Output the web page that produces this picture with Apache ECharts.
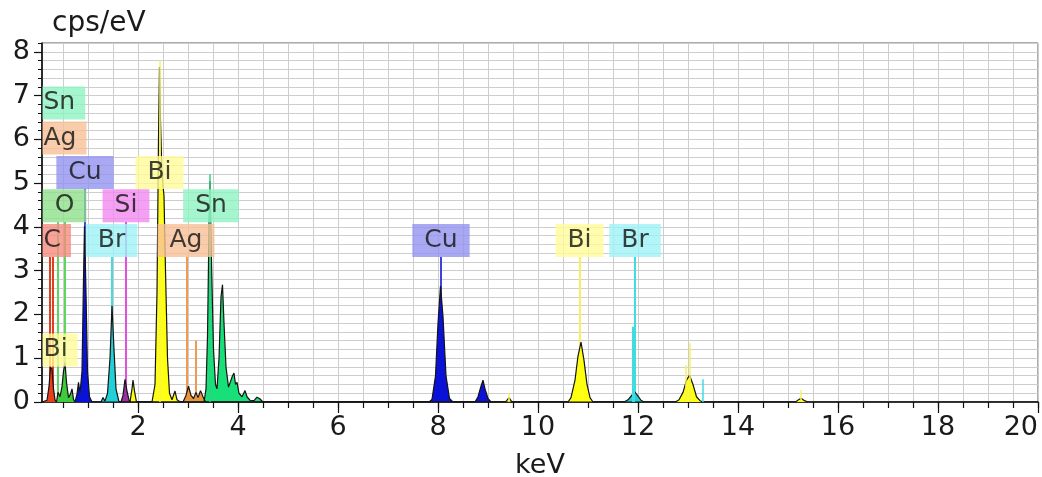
<!DOCTYPE html>
<html><head><meta charset="utf-8">
<script src="https://cdn.jsdelivr.net/npm/echarts@6/dist/echarts.min.js"></script>
<style>html,body{margin:0;padding:0;background:#fff}#c{width:1042px;height:477px}</style>
</head><body><div id="c"></div>
<script>
// ---------- axis ticks ----------
const xMin = 0.08, xMax = 20;
const yMin = 0, yMax = 8.2;
const xTickLabels = [2, 4, 6, 8, 10, 12, 14, 16, 18, 20];
const yTickLabels = [0, 1, 2, 3, 4, 5, 6, 7, 8];

// ---------- spectrum per element: [keV, cps/eV] ----------
const specC = [[0.08,0],[0.18,0.04],[0.22,0.35],[0.25,0.8],[0.28,0.75],[0.31,0.3],[0.34,0.05],[0.37,0]];
const specO = [[0.37,0],[0.40,0.22],[0.44,0.12],[0.48,0.35],[0.51,0.7],[0.54,0.9],[0.57,0.45],[0.61,0.1],[0.65,0.18],[0.68,0.3],[0.71,0.06],[0.74,0]];
const specCu = [[0.74,0],[0.78,0.18],[0.81,0.45],[0.84,0.2],[0.88,0.7],[0.91,2.8],[0.93,4.02],[0.96,2.5],[0.99,0.7],[1.03,0.12],[1.08,0],
  [7.82,0],[7.88,0.06],[7.95,0.6],[8.0,1.8],[8.05,2.65],[8.1,1.95],[8.16,0.6],[8.23,0.08],[8.3,0],
  [8.74,0],[8.8,0.12],[8.86,0.36],[8.9,0.5],[8.94,0.3],[9.0,0.08],[9.06,0]];
const specBr = [[1.26,0],[1.3,0.1],[1.34,0.02],[1.39,0.2],[1.44,1.0],[1.48,2.2],[1.52,1.2],[1.56,0.3],[1.62,0],
  [11.72,0],[11.8,0.05],[11.88,0.16],[11.93,0.24],[11.99,0.15],[12.06,0.04],[12.12,0]];
const specSi = [[1.66,0],[1.70,0.15],[1.74,0.52],[1.78,0.25],[1.82,0.05],[1.85,0]];
const specBi = [[1.84,0],[1.88,0.3],[1.90,0.5],[1.93,0.25],[1.97,0],
  [2.28,0],[2.34,0.4],[2.38,2.5],[2.41,6.0],[2.43,7.65],[2.45,6.4],[2.48,5.2],[2.52,4.7],[2.55,3.0],[2.59,1.0],[2.63,0.2],[2.68,0.05],[2.74,0.25],[2.78,0.05],[2.85,0],
  [9.35,0],[9.42,0.1],[9.48,0],
  [10.6,0],[10.66,0.1],[10.74,0.5],[10.8,1.05],[10.86,1.37],[10.92,0.95],[10.98,0.4],[11.04,0.1],[11.1,0],
  [12.75,0],[12.82,0.05],[12.9,0.22],[12.97,0.5],[13.03,0.61],[13.1,0.4],[13.17,0.12],[13.24,0.03],[13.3,0],
  [15.15,0],[15.22,0.06],[15.27,0.08],[15.33,0.03],[15.4,0]];
const specAg = [[2.9,0],[2.96,0.15],[3.01,0.36],[3.06,0.15],[3.11,0.08],[3.16,0.22],[3.2,0.1],[3.25,0.26],[3.3,0.12],[3.35,0]];
const specSn = [[3.32,0],[3.36,0.3],[3.39,1.5],[3.42,4.0],[3.44,5.05],[3.47,3.2],[3.51,1.2],[3.55,0.4],[3.58,0.3],[3.62,1.0],[3.66,2.4],[3.69,2.68],[3.72,1.8],[3.76,0.8],[3.81,0.34],[3.85,0.36],[3.89,0.6],[3.92,0.66],[3.95,0.4],[3.98,0.45],[4.02,0.2],[4.08,0.12],[4.14,0.26],[4.18,0.12],[4.24,0.04],[4.32,0.03],[4.38,0.11],[4.43,0.08],[4.5,0]];

// ---------- element labels ----------
const labelNames = ['Sn','Ag','Cu','Bi','O','Si','Sn','C','Br','Ag','Bi','Cu','Bi','Br'];
const labelKeV   = [xMin, xMin, 0.94, 2.43, 0.53, 1.76, 3.46, xMin, 1.47, 2.96, xMin, 8.06, 10.83, 11.94];
const labelCps   = [6.83, 6.03, 5.24, 5.24, 4.48, 4.48, 4.48, 3.69, 3.69, 3.69, 1.19, 3.69, 3.69, 3.69];
const labelAtEdge = [true, true, false, false, false, false, false, true, false, false, true, false, false, false];

// ---------- element marker lines: element, keV, top ----------
const markerEl  = ['C','C','O','O','Cu','Br','Si','Bi','Ag','Ag','Sn','Cu','Bi','Br'];
const markerKeV = [0.24, 0.30, 0.40, 0.54, 0.93, 1.48, 1.75, 2.43, 2.98, 3.15, 3.44, 8.05, 10.84, 11.93];
const markerTop = [3.31, 3.31, 4.11, 4.11, 4.87, 3.31, 4.11, 4.87, 3.31, 1.40, 4.11, 3.31, 3.31, 3.31];

// ---------- thin line spikes: element, keV, top ----------
const spikeEl  = ['Bi','Sn','Br','Bi','Bi','Br','Bi','Bi'];
const spikeKeV = [2.43, 3.44, 11.9, 13.04, 12.96, 13.29, 15.26, 9.42];
const spikeTop = [7.8, 5.2, 1.72, 1.34, 0.84, 0.52, 0.27, 0.2];

// ---------- styles ----------
const FONT = 'DejaVu Sans';
const fillColor = {C:'#e8401c', O:'#3ccc3c', Cu:'#0a12d8', Br:'#22d0d8', Si:'#9a2fa0', Bi:'#ffff10', Ag:'#e8963c', Sn:'#18e078'};
const boxColor  = {C:'#f58c80', O:'#8ee08c', Cu:'#9494f0', Br:'#9ef2f6', Si:'#f28af0', Bi:'#fffb9a', Ag:'#f7c096', Sn:'#8ff2c2'};
const lineColor = {C:'#e04020', O:'#5cd85c', Cu:'#4040dc', Br:'#40dce0', Si:'#e050e0', Bi:'#f6f060', Ag:'#f09a50', Sn:'#30d080'};

const xMinorTicks = [];
for (let v = 0.5; v <= xMax + 1e-9; v += 0.5) xMinorTicks.push(Math.round(v * 10) / 10);
const yMinorTicks = [];
for (let i = 0; i <= 41; i++) yMinorTicks.push(Math.round(i * 2) / 10);

const specs = [['Sn', specSn], ['Ag', specAg], ['C', specC], ['O', specO], ['Cu', specCu], ['Br', specBr], ['Si', specSi], ['Bi', specBi]];

const series = [];
series.push({
  type: 'lines', coordinateSystem: 'cartesian2d', z: 2, silent: true, polyline: false,
  data: markerKeV.map((k, i) => ({coords: [[k, 0], [k, markerTop[i]]], lineStyle: {color: lineColor[markerEl[i]], width: 2, opacity: 1}}))
});
specs.forEach(([el, d]) => {
  series.push({
    type: 'line', name: el, data: d, showSymbol: false, symbol: 'none', z: 3,
    lineStyle: {color: '#141414', width: 1.2},
    areaStyle: {color: fillColor[el], opacity: 1},
    itemStyle: {color: fillColor[el]}
  });
});
series.push({
  type: 'lines', coordinateSystem: 'cartesian2d', z: 4, silent: true,
  data: spikeKeV.map((k, i) => ({coords: [[k, 0], [k, spikeTop[i]]], lineStyle: {color: lineColor[spikeEl[i]], width: spikeEl[i] === 'Br' && i === 2 ? 3 : 1.5, opacity: 1}}))
});
series.push({
  type: 'scatter', z: 10, symbolSize: 1, itemStyle: {color: 'rgba(0,0,0,0)'}, silent: true,
  data: labelNames.map((n, i) => ({
    value: [labelKeV[i], labelCps[i]],
    label: {
      show: true, formatter: n,
      position: labelAtEdge[i] ? 'right' : 'inside', distance: 0,
      backgroundColor: boxColor[n], color: '#111111', fontSize: 25, fontFamily: FONT,
      lineHeight: 25, padding: labelAtEdge[i] ? [4, 10, 4, 1] : [4, 12, 4, 12]
    }
  }))
});

const chart = echarts.init(document.getElementById('c'), null, {renderer: 'canvas'});
chart.setOption({
  animation: false,
  backgroundColor: '#ffffff',
  grid: {left: 42, right: 4, top: 43, bottom: 75, outerBoundsMode: 'none', containLabel: false,
         show: true, borderColor: '#5a5a5a', borderWidth: 1, backgroundColor: 'transparent'},
  xAxis: [{
    type: 'value', min: xMin, max: xMax, position: 'bottom',
    name: 'keV', nameLocation: 'middle', nameGap: 50,
    nameTextStyle: {fontSize: 27, fontFamily: FONT, color: '#1a1a1a'},
    axisLine: {show: true, onZero: false, lineStyle: {color: '#000', width: 1.5}},
    axisTick: {show: true, customValues: xMinorTicks, length: 6, lineStyle: {color: '#111', width: 1.2}},
    axisLabel: {customValues: xTickLabels, fontSize: 27, fontFamily: FONT, color: '#1a1a1a', margin: 12, alignMaxLabel: 'right'},
    splitLine: {show: true, lineStyle: {color: '#cdcdcd', width: 1}}
  }, {
    type: 'value', min: xMin, max: xMax, position: 'bottom',
    axisLine: {show: false},
    axisTick: {show: true, customValues: xTickLabels, length: 11, lineStyle: {color: '#111', width: 1.2}},
    axisLabel: {show: false}, splitLine: {show: false}
  }],
  yAxis: [{
    type: 'value', min: yMin, max: yMax, position: 'left',
    name: 'cps/eV', nameLocation: 'end', nameGap: 5,
    nameTextStyle: {fontSize: 28, fontFamily: FONT, color: '#1a1a1a', align: 'left', padding: [0, 0, 0, 10]},
    axisLine: {show: true, lineStyle: {color: '#000', width: 1.5}},
    axisTick: {show: true, customValues: yMinorTicks, length: 4, lineStyle: {color: '#111', width: 1}},
    axisLabel: {customValues: yTickLabels, fontSize: 27, fontFamily: FONT, color: '#1a1a1a', margin: 12},
    splitLine: {show: true, lineStyle: {color: '#cdcdcd', width: 1}}
  }, {
    type: 'value', min: yMin, max: yMax, position: 'left',
    axisLine: {show: false},
    axisTick: {show: true, customValues: yTickLabels, length: 8, lineStyle: {color: '#111', width: 1.2}},
    axisLabel: {show: false}, splitLine: {show: false}
  }],
  series: series
});
</script>
</body></html>
